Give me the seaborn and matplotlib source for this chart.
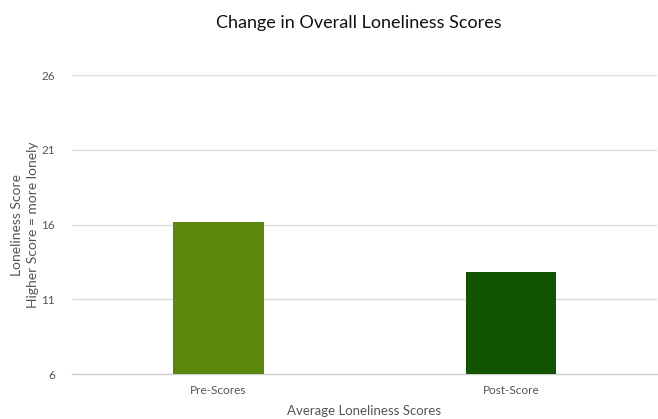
import matplotlib
matplotlib.use("Agg")
import matplotlib.pyplot as plt
import seaborn as sns
import pandas as pd

categories = ["Pre-Scores", "Post-Score"]
scores = [16.2, 12.8]
bar_colors = ["#5a870c", "#115500"]
y_ticks = [6, 11, 16, 21, 26]

sns.set_theme(style="white")
plt.rcParams["font.family"] = ["Lato", "DejaVu Sans"]

df = pd.DataFrame({"group": categories, "score": scores})

fig = plt.figure(figsize=(6.58, 4.19), dpi=100)
ax = fig.add_axes([0.109, 0.107, 0.89, 0.714])

sns.barplot(data=df, x="group", y="score", hue="group", palette=bar_colors,
            legend=False, width=0.31, saturation=1, ax=ax, zorder=3, linewidth=0)

ax.set_ylim(6, 26)
ax.set_xlim(-0.5, 1.5)
ax.set_yticks(y_ticks)
ax.set_yticklabels([str(t) for t in y_ticks])
ax.yaxis.grid(True, color="#dcdcdc", linewidth=1, zorder=0)
ax.set_axisbelow(True)

for side in ["top", "right", "left"]:
    ax.spines[side].set_visible(False)
ax.spines["bottom"].set_color("#d0d0d0")
ax.spines["bottom"].set_linewidth(1)

ax.tick_params(axis="y", length=0, pad=12, labelsize=8.5, labelcolor="#555555")
ax.tick_params(axis="x", length=0, pad=8, labelsize=8.5, labelcolor="#555555")
# category divider ticks on the baseline
ax.set_xticks([-0.5, 0.5, 1.5], minor=True)
ax.tick_params(axis="x", which="minor", length=4, color="#d0d0d0", width=1)

ax.set_xlabel("Average Loneliness Scores", fontsize=9.5, color="#555555", labelpad=6)
ax.set_ylabel("Loneliness Score\nHigher Score = more lonely", fontsize=10,
              color="#555555", labelpad=2, linespacing=1.4)

fig.suptitle("Change in Overall Loneliness Scores", fontsize=13, color="#111111",
             x=0.545, y=0.965)

fig.savefig("out.png", dpi=100)
